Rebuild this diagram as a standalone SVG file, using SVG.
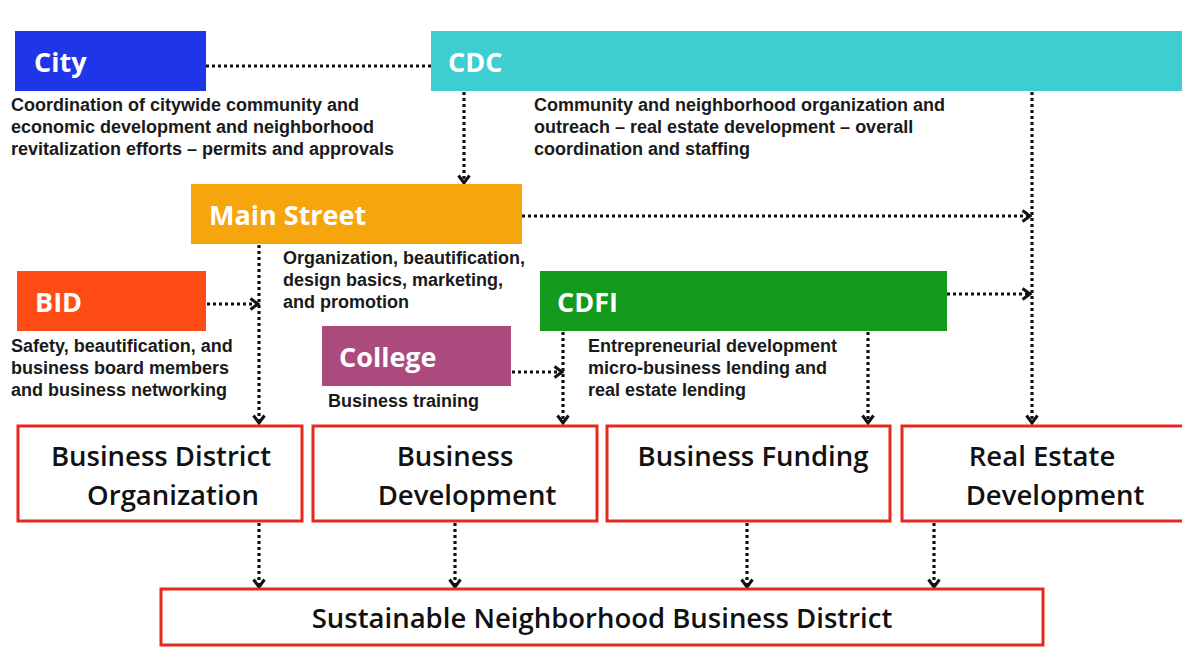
<svg xmlns="http://www.w3.org/2000/svg" width="1182" height="648" viewBox="0 0 1182 648">
<defs>
<marker id="ah" markerUnits="userSpaceOnUse" markerWidth="16" markerHeight="16" refX="9" refY="7" orient="auto">
<path d="M1.5,1.5 L9,7 L1.5,12.5" fill="none" stroke="#111" stroke-width="3"/>
</marker>
<style>
.hdr{fill:#fff;font-family:"Open Sans","Liberation Sans",sans-serif;font-weight:700;font-size:27px}
.desc{fill:#1a1a1a;font-family:"Liberation Sans",Arial,sans-serif;font-weight:700;font-size:18px}
.out{fill:#fff;stroke:#e8281e;stroke-width:3}
.otx{fill:#111;font-family:"Open Sans","Liberation Sans",sans-serif;font-weight:600;font-size:27.5px;text-anchor:middle}
.dot{fill:none;stroke:#111;stroke-width:3.2;stroke-dasharray:3 3}
.arr{marker-end:url(#ah)}
</style>
</defs>
<rect width="1182" height="648" fill="#fff"/>

<g id="connectors">
<path class="dot" d="M206,66 H431"/>
<path class="dot arr" d="M464,92 V183"/>
<path class="dot arr" d="M522,216 H1030"/>
<path class="dot arr" d="M1032,92 V423"/>
<path class="dot arr" d="M259,245 V423"/>
<path class="dot arr" d="M207,304 H258"/>
<path class="dot arr" d="M947,294 H1030"/>
<path class="dot arr" d="M563,332 V423"/>
<path class="dot arr" d="M868,332 V423"/>
<path class="dot arr" d="M512,372 H562"/>
<path class="dot arr" d="M259,523 V587"/>
<path class="dot arr" d="M455,523 V587"/>
<path class="dot arr" d="M747,523 V587"/>
<path class="dot arr" d="M934,523 V587"/>
</g>

<g id="city">
<rect x="15" y="31" width="191" height="60" fill="#1f36e8"/>
<text class="hdr" x="34" y="72">City</text>
<text class="desc" x="11" y="111">Coordination of citywide community and</text>
<text class="desc" x="11" y="133">economic development and neighborhood</text>
<text class="desc" x="11" y="155">revitalization efforts – permits and approvals</text>
</g>

<g id="cdc">
<rect x="431" y="31" width="751" height="60" fill="#3ecdd0"/>
<text class="hdr" x="448" y="72">CDC</text>
<text class="desc" x="534" y="111">Community and neighborhood organization and</text>
<text class="desc" x="534" y="133">outreach – real estate development – overall</text>
<text class="desc" x="534" y="155">coordination and staffing</text>
</g>

<g id="mainstreet">
<rect x="191" y="184" width="331" height="60" fill="#f6a60c"/>
<text class="hdr" x="209" y="225">Main Street</text>
<text class="desc" x="283" y="264">Organization, beautification,</text>
<text class="desc" x="283" y="286">design basics, marketing,</text>
<text class="desc" x="283" y="308">and promotion</text>
</g>

<g id="bid">
<rect x="17" y="271" width="189" height="60" fill="#ff4c14"/>
<text class="hdr" x="35" y="312">BID</text>
<text class="desc" x="11" y="352">Safety, beautification, and</text>
<text class="desc" x="11" y="374">business board members</text>
<text class="desc" x="11" y="396">and business networking</text>
</g>

<g id="cdfi">
<rect x="540" y="271" width="407" height="60" fill="#139a1c"/>
<text class="hdr" x="557" y="312">CDFI</text>
<text class="desc" x="588" y="352">Entrepreneurial development</text>
<text class="desc" x="588" y="374">micro-business lending and</text>
<text class="desc" x="588" y="396">real estate lending</text>
</g>

<g id="college">
<rect x="322" y="326" width="189" height="60" fill="#ab4a7c"/>
<text class="hdr" x="339" y="367">College</text>
<text class="desc" x="328" y="407">Business training</text>
</g>

<g id="bdo">
<rect class="out" x="18" y="426" width="284" height="95"/>
<text class="otx" x="161" y="466">Business District</text>
<text class="otx" x="173" y="505">Organization</text>
</g>

<g id="bdev">
<rect class="out" x="313" y="426" width="284" height="95"/>
<text class="otx" x="455" y="466">Business</text>
<text class="otx" x="467" y="505">Development</text>
</g>

<g id="bfund">
<rect class="out" x="607" y="426" width="283" height="95"/>
<text class="otx" x="753" y="466">Business Funding</text>
</g>

<g id="red">
<rect class="out" x="902" y="426" width="282" height="95"/>
<text class="otx" x="1042" y="466">Real Estate</text>
<text class="otx" x="1055" y="505">Development</text>
</g>

<g id="snbd">
<rect class="out" x="161" y="589" width="882" height="56"/>
<text class="otx" x="602" y="628">Sustainable Neighborhood Business District</text>
</g>
</svg>
